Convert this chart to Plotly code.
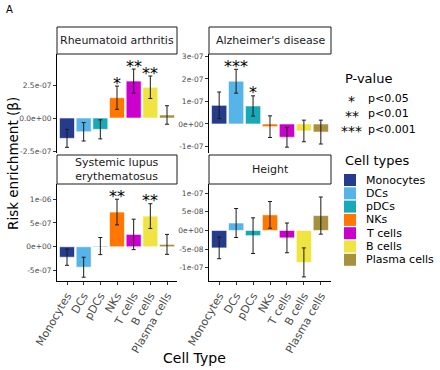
import plotly.graph_objects as go

W, H = 440, 370

cell_types = ["Monocytes", "DCs", "pDCs", "NKs", "T cells", "B cells", "Plasma cells"]
colors = ["#253C8C", "#56B4E9", "#17A9B8", "#FF7700", "#CC00CC", "#F0E442", "#A8913E"]

panels = ["Rheumatoid arthritis", "Alzheimer's disease", "Systemic lupus<br>erythematosus", "Height"]

ra_beta = [-1.54e-7, -1.04e-7, -0.86e-7, 1.54e-7, 2.80e-7, 2.33e-7, 0.23e-7]
ra_se = [0.68e-7, 0.70e-7, 0.72e-7, 0.88e-7, 0.91e-7, 0.85e-7, 0.70e-7]
ra_sig = ["", "", "", "*", "**", "**", ""]

ad_beta = [0.83e-7, 1.90e-7, 0.80e-7, -0.12e-7, -0.59e-7, -0.31e-7, -0.36e-7]
ad_se = [0.59e-7, 0.53e-7, 0.45e-7, 0.48e-7, 0.44e-7, 0.48e-7, 0.53e-7]
ad_sig = ["", "***", "*", "", "", "", ""]

sle_beta = [-0.22e-6, -0.43e-6, 0.015e-6, 0.73e-6, 0.26e-6, 0.645e-6, 0.05e-6]
sle_se = [0.17e-6, 0.21e-6, 0.18e-6, 0.27e-6, 0.32e-6, 0.26e-6, 0.21e-6]
sle_sig = ["", "", "", "**", "", "**", ""]

ht_beta = [-0.47e-7, 0.20e-7, -0.14e-7, 0.42e-7, -0.20e-7, -0.86e-7, 0.40e-7]
ht_se = [0.29e-7, 0.39e-7, 0.48e-7, 0.36e-7, 0.40e-7, 0.39e-7, 0.50e-7]
ht_sig = ["", "", "", "", "", "", ""]

y_ranges = [[-2.65e-7, 4.85e-7], [-1.29e-7, 3.11e-7], [-0.72e-6, 1.32e-6], [-1.36e-7, 1.25e-7]]
y_tickvals = [
    [-2.5e-7, 0, 2.5e-7],
    [-1e-7, 0, 1e-7, 2e-7, 3e-7],
    [-5e-7, 0, 5e-7, 1e-6],
    [-1e-7, -5e-8, 0, 5e-8, 1e-7],
]
y_ticktext = [
    ["-2.5e-07", "0.0e+00", "2.5e-07"],
    ["-1e-07", "0e+00", "1e-07", "2e-07", "3e-07"],
    ["-5e-07", "0e+00", "5e-07", "1e-06"],
    ["-1e-07", "-5e-08", "0e+00", "5e-08", "1e-07"],
]

pvalue_symbols = ["*", "**", "***"]
pvalue_labels = ["p<0.05", "p<0.01", "p<0.001"]

# panel boxes in pixels: x0, x1, y0(top), y1(bottom)
boxes = [(57, 177, 54, 153), (209, 331, 54, 153), (57, 177, 184, 281), (209, 331, 184, 281)]
strips = [(57, 177, 27, 54), (209, 331, 27, 54), (57, 177, 155, 184), (209, 331, 155, 184)]

def px(x):
    return x / W

def py(y):
    return 1 - y / H

FONT = "DejaVu Sans"
fig = go.Figure()
data = [(ra_beta, ra_se, ra_sig), (ad_beta, ad_se, ad_sig), (sle_beta, sle_se, sle_sig), (ht_beta, ht_se, ht_sig)]

layout = dict(
    template="none",
    width=W, height=H, margin=dict(l=0, r=0, t=0, b=0, pad=0, autoexpand=False),
    paper_bgcolor="white", plot_bgcolor="white", showlegend=False,
    font=dict(family=FONT), bargap=0.1,
)
shapes = []
annotations = []

for i, (beta, se, sig) in enumerate(data):
    n = i + 1
    xa = "x" if n == 1 else f"x{n}"
    ya = "y" if n == 1 else f"y{n}"
    fig.add_trace(go.Bar(
        x=cell_types, y=beta, xaxis=xa, yaxis=ya, width=0.9,
        marker=dict(color=colors, line=dict(color="white", width=0.6)),
        error_y=dict(type="data", array=se, visible=True, color="#1a1a1a", thickness=1, width=2),
    ))
    for ct, b, s, g in zip(cell_types, beta, se, sig):
        if g:
            annotations.append(dict(xref=xa, yref=ya, x=ct, y=b + s, text=g, showarrow=False,
                                    xanchor="center", yanchor="middle", yshift=3,
                                    font=dict(family=FONT, size=16, color="black")))
    x0, x1, y0, y1 = boxes[i]
    bottom = i >= 2
    layout["xaxis" if n == 1 else f"xaxis{n}"] = dict(
        domain=[px(x0), px(x1)], anchor=ya, range=[-0.6, 6.6], automargin=False,
        type="category", categoryorder="array", categoryarray=cell_types,
        showline=bottom, linecolor="black", linewidth=1,
        ticks="outside" if bottom else "", ticklen=3, tickcolor="#333333",
        showticklabels=bottom, tickangle=-60,
        tickfont=dict(family=FONT, size=11, color="#4D4D4D"),
        showgrid=False, zeroline=False, fixedrange=True,
    )
    layout["yaxis" if n == 1 else f"yaxis{n}"] = dict(
        domain=[py(y1), py(y0)], anchor=xa, range=y_ranges[i], automargin=False,
        tickvals=y_tickvals[i], ticktext=y_ticktext[i],
        showline=True, linecolor="black", linewidth=1,
        ticks="outside", ticklen=3, tickcolor="#333333",
        tickfont=dict(family=FONT, size=7.5, color="#4D4D4D"),
        showgrid=False, zeroline=False, fixedrange=True,
    )
    sx0, sx1, sy0, sy1 = strips[i]
    shapes.append(dict(type="rect", xref="paper", yref="paper",
                       x0=px(sx0), x1=px(sx1), y0=py(sy1), y1=py(sy0),
                       line=dict(color="#1a1a1a", width=1), fillcolor="white"))
    annotations.append(dict(xref="paper", yref="paper", x=px((sx0 + sx1) / 2), y=py((sy0 + sy1) / 2),
                            text=panels[i], showarrow=False, xanchor="center", yanchor="middle",
                            font=dict(family=FONT, size=11, color="#1a1a1a")))

# titles
annotations.append(dict(xref="paper", yref="paper", x=px(9), y=py(10), text="A", showarrow=False,
                        xanchor="center", yanchor="middle", font=dict(family=FONT, size=10, color="black")))
annotations.append(dict(xref="paper", yref="paper", x=px(13), y=py(164), text="Risk enrichment (β)",
                        showarrow=False, textangle=-90, xanchor="center", yanchor="middle",
                        font=dict(family=FONT, size=13.5, color="black")))
annotations.append(dict(xref="paper", yref="paper", x=px(194), y=py(358), text="Cell Type",
                        showarrow=False, xanchor="center", yanchor="middle",
                        font=dict(family=FONT, size=14, color="black")))

# P-value key
annotations.append(dict(xref="paper", yref="paper", x=px(343), y=py(78), text="P-value", showarrow=False,
                        xanchor="left", yanchor="middle", font=dict(family=FONT, size=13, color="black")))
for k, (sym, lab) in enumerate(zip(pvalue_symbols, pvalue_labels)):
    yc = 99 + k * 15
    annotations.append(dict(xref="paper", yref="paper", x=px(351.5), y=py(yc + 2), text=sym, showarrow=False,
                            xanchor="center", yanchor="middle", font=dict(family=FONT, size=14, color="black")))
    annotations.append(dict(xref="paper", yref="paper", x=px(366), y=py(yc), text=lab, showarrow=False,
                            xanchor="left", yanchor="middle", font=dict(family=FONT, size=11, color="black")))

# Cell types key
annotations.append(dict(xref="paper", yref="paper", x=px(343), y=py(160), text="Cell types", showarrow=False,
                        xanchor="left", yanchor="middle", font=dict(family=FONT, size=13, color="black")))
for k, (ct, col) in enumerate(zip(cell_types, colors)):
    top = 174 + k * 13.3
    shapes.append(dict(type="rect", xref="paper", yref="paper", x0=px(344), x1=px(356),
                       y0=py(top + 12), y1=py(top), line=dict(width=0), fillcolor=col))
    annotations.append(dict(xref="paper", yref="paper", x=px(364), y=py(top + 6), text=ct, showarrow=False,
                            xanchor="left", yanchor="middle", font=dict(family=FONT, size=11, color="black")))

layout["shapes"] = shapes
layout["annotations"] = annotations
fig.update_layout(**layout)
fig.write_html("out.html", config={"displayModeBar": False},
               post_script="document.body.style.margin='0';document.body.style.overflow='hidden';")
